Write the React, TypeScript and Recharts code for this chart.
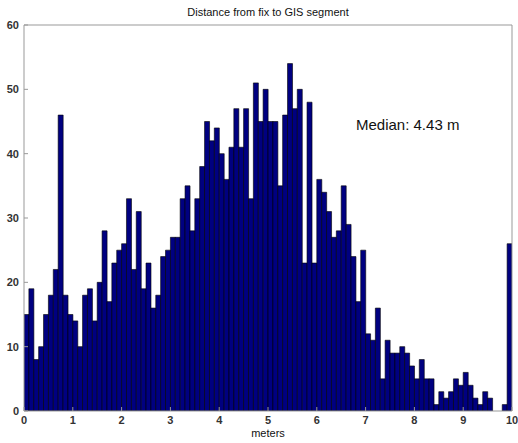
import { BarChart, Bar, XAxis, YAxis, Label } from 'recharts';

// histogram of fix-to-segment distance, 100 bins of 0.1 m between 0 and 10 m
const binWidth = 0.1;
const counts = [
  15, 19, 8, 10, 15, 18, 22, 46, 18, 15,
  14, 10, 18, 19, 14, 20, 28, 17, 23, 25,
  26, 33, 22, 31, 19, 23, 16, 18, 24, 25,
  27, 27, 33, 35, 28, 33, 38, 45, 42, 44,
  40, 36, 41, 47, 41, 47, 33, 51, 45, 50,
  45, 45, 35, 46, 54, 47, 50, 23, 48, 23,
  36, 34, 31, 27, 28, 35, 29, 24, 17, 25,
  12, 11, 16, 5, 11, 9, 9, 10, 9, 7,
  5, 8, 5, 5, 1, 3, 2, 3, 5, 4,
  6, 4, 2, 1, 3, 2, 0, 0, 1, 26,
];
const xTicks = [0, 1, 2, 3, 4, 5, 6, 7, 8, 9, 10];
const yTicks = [0, 10, 20, 30, 40, 50, 60];

const data = counts.map((count, i) => ({
  center: Number(((i + 0.5) * binWidth).toFixed(2)),
  count,
}));

const frame = '#999';
const font = 'Liberation Sans, Arial, sans-serif';
const tickFont = { fontSize: 11, fill: '#333', fontFamily: font, fontWeight: 'bold' as const };

export default function App() {
  return (
    <div style={{ position: 'absolute', left: 0, top: 0, width: 518, height: 443, background: '#fff' }}>
      <div
        style={{
          position: 'absolute',
          left: 24,
          width: 488,
          top: 6,
          textAlign: 'center',
          fontFamily: font,
          fontSize: 11,
          color: '#111',
        }}
      >
        Distance from fix to GIS segment
      </div>
      <BarChart
        width={518}
        height={443}
        data={data}
        margin={{ top: 24, right: 5, left: 0, bottom: 0 }}
        barCategoryGap={0}
        barGap={0}
      >
        <XAxis
          dataKey="center"
          type="number"
          domain={[0, 10]}
          ticks={xTicks}
          allowDataOverflow
          height={32}
          stroke={frame}
          tickSize={-4}
          tickMargin={9}
          tick={tickFont}
        >
          <Label
            value="meters"
            position="insideBottom"
            offset={6}
            style={{ fontSize: 11, fill: '#111', fontFamily: font }}
          />
        </XAxis>
        <XAxis
          xAxisId="top"
          orientation="top"
          dataKey="center"
          type="number"
          domain={[0, 10]}
          ticks={xTicks}
          allowDataOverflow
          height={1}
          stroke={frame}
          tickSize={-4}
          tick={false}
        />
        <YAxis
          domain={[0, 60]}
          ticks={yTicks}
          allowDataOverflow
          width={24}
          stroke={frame}
          tickSize={-4}
          tickMargin={9}
          tick={tickFont}
        />
        <YAxis
          yAxisId="right"
          orientation="right"
          domain={[0, 60]}
          ticks={yTicks}
          allowDataOverflow
          width={1}
          stroke={frame}
          tickSize={-4}
          tick={false}
        />
        <Bar dataKey="count" fill="#000080" stroke="#000" strokeWidth={0.6} isAnimationActive={false} />
      </BarChart>
      <div
        style={{
          position: 'absolute',
          left: 356,
          top: 116,
          fontFamily: font,
          fontSize: 15,
          color: '#111',
          whiteSpace: 'nowrap',
        }}
      >
        Median: 4.43 m
      </div>
    </div>
  );
}
